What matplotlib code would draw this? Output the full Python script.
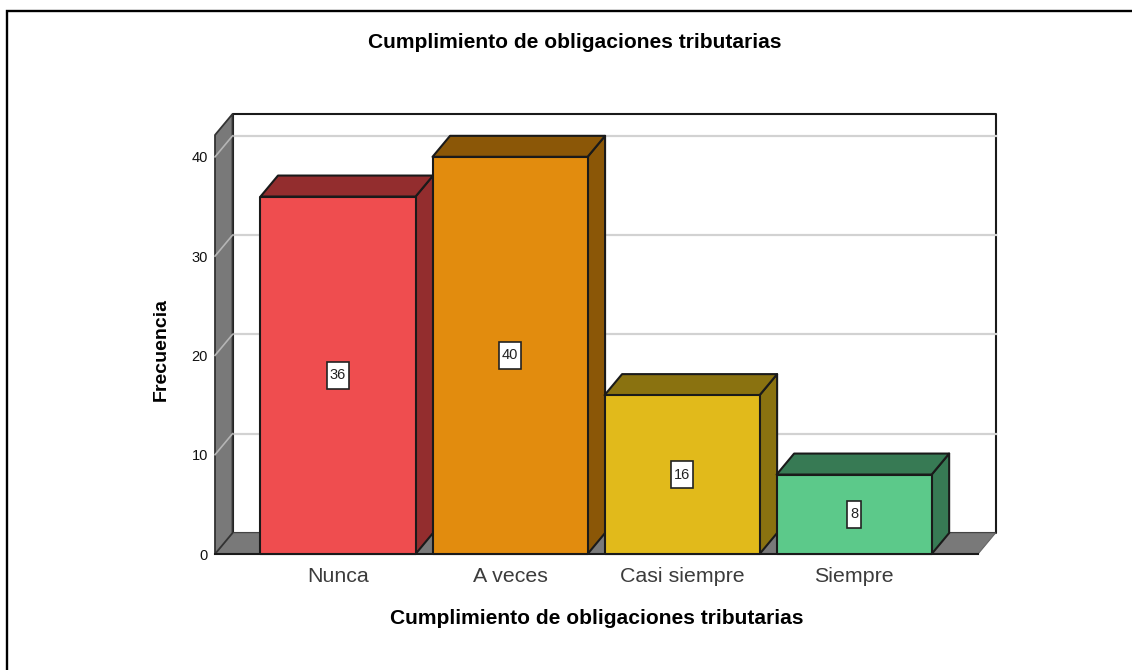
import matplotlib
matplotlib.use("Agg")
import matplotlib.pyplot as plt
from matplotlib.lines import Line2D
from matplotlib.patches import Polygon

plt.rcParams['font.family'] = ['Liberation Sans', 'DejaVu Sans']

# Data
categories = ['Nunca', 'A veces', 'Casi siempre', 'Siempre']
frecuencia = [36, 40, 16, 8]
y_ticks = [0, 10, 20, 30, 40]
front_colors = ['#EF4D4F', '#E28C0E', '#E1BA1B', '#5CC98A']
side_colors = ['#932D2E', '#8B5707', '#8A7210', '#377A54']

W, H = 1132, 670
fig = plt.figure(figsize=(W / 100, H / 100), dpi=100)

# Axes sit on the front plane of the fake 3D box
left, right, bottom, top = 215, 978, 554, 135
ax = fig.add_axes([left / W, 1 - bottom / H, (right - left) / W, (bottom - top) / H])
ax.set_xlim(-0.715, 3.72)
ax.set_ylim(0, 42.2)
ax.set_facecolor('none')
for s in ax.spines.values():
    s.set_visible(False)

# Depth of the box and width of the bars, in data units
dx = 17.5 / 172
dy = 21 / 9.925
bar_w = 155 / 172
x0, x1 = ax.get_xlim()
y1 = ax.get_ylim()[1]
edge = '#1a1a1a'
wall = '#797979'
grid = '#d2d2d2'


def face(pts, color, z, lw=1.5, ec=edge):
    ax.add_patch(Polygon(pts, closed=True, fc=color, ec=ec, lw=lw, zorder=z,
                         clip_on=False, joinstyle='round'))


# Back wall
face([(x0 + dx, dy), (x1 + dx, dy), (x1 + dx, y1 + dy), (x0 + dx, y1 + dy)], 'white', 1, lw=1.5)

# Grid lines across back wall
for t in y_ticks[1:]:
    ax.plot([x0 + dx, x1 + dx], [t + dy, t + dy], color=grid, lw=1.6, zorder=1.5, clip_on=False)

# Left wall and floor
face([(x0, 0), (x1, 0), (x1 + dx, dy), (x0 + dx, dy)], wall, 2, lw=0.8, ec='#666666')
face([(x0, 0), (x0 + dx, dy), (x0 + dx, y1 + dy), (x0, y1)], wall, 2, lw=1.3, ec='#333333')
ax.plot([x0, x1], [0, 0], color=edge, lw=1.5, zorder=2.4, clip_on=False)
for t in y_ticks[1:]:
    ax.plot([x0, x0 + dx], [t, t + dy], color='#b5b5b5', lw=1.2, zorder=2.5, clip_on=False)

# Bars
for i, v in enumerate(frecuencia):
    a = i - bar_w / 2
    b = i + bar_w / 2
    z = 3 + i
    face([(b, 0), (b + dx, dy), (b + dx, v + dy), (b, v)], side_colors[i], z)
    face([(a, v), (b, v), (b + dx, v + dy), (a + dx, v + dy)], side_colors[i], z)
    face([(a, 0), (b, 0), (b, v), (a, v)], front_colors[i], z)
    ax.text(i, v / 2, str(v), ha='center', va='center', fontsize=10.5, color='#222222', zorder=10,
            bbox=dict(boxstyle='square,pad=0.2', fc='white', ec='#222222', lw=1.2, mutation_aspect=2.2))

ax.set_xticks(range(len(categories)))
ax.set_xticklabels(categories, fontsize=15.4, color='#3c3c3c')
ax.set_yticks(y_ticks)
ax.set_yticklabels([str(t) for t in y_ticks], fontsize=10.5, color='#111111')
ax.tick_params(axis='x', length=0, pad=9)
ax.tick_params(axis='y', length=0, pad=5)

fig.text(575 / W, 1 - 42.5 / H, 'Cumplimiento de obligaciones tributarias', ha='center', va='center',
         fontsize=15.1, fontweight='bold', color='black')
fig.text(596.5 / W, 1 - 619 / H, 'Cumplimiento de obligaciones tributarias', ha='center', va='center',
         fontsize=15.1, fontweight='bold', color='black')
fig.text(161 / W, 1 - 350 / H, 'Frecuencia', ha='center', va='center', rotation=90,
         fontsize=14, fontweight='bold', color='black')

# Picture frame: only the top and left edges are in the crop
fig.add_artist(Line2D([6.5 / W, 6.5 / W, 1], [0, 1 - 10.5 / H, 1 - 10.5 / H], color='black', lw=1.7,
                      transform=fig.transFigure, solid_joinstyle='miter'))

fig.savefig('out.png', dpi=100)
